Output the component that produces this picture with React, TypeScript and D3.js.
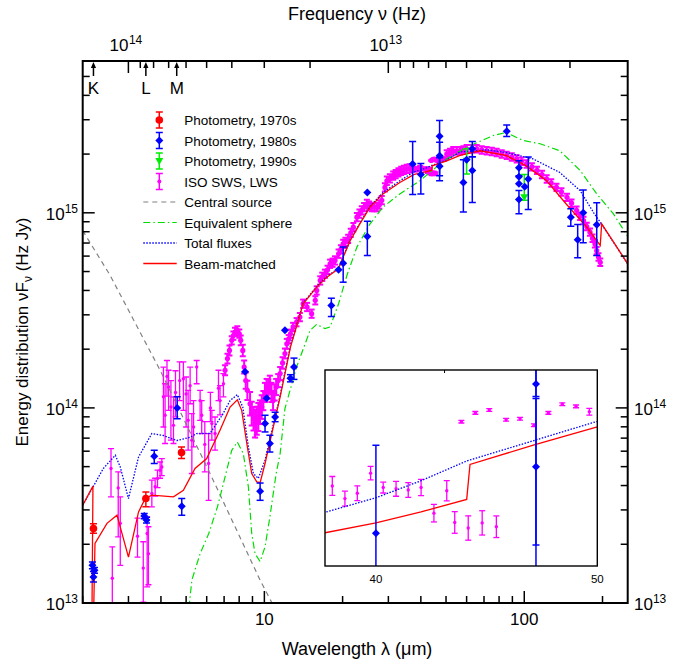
import React from 'react'
import * as d3 from 'd3'

type Pt = [number, number] // wavelength (µm), nuFnu (Hz Jy)
type Bar = [number, number, number, number] // wavelength, flux, low, high
type Band = [number, number, number] // wavelength, flux, relative error

// Photometry, 1970s
const phot1970s: Bar[] = [
  [2.2, 2.41e13, 2.28e13, 2.55e13],
  [3.5, 3.43e13, 3.11e13, 3.71e13],
  [4.8, 5.9e13, 5.5e13, 6.31e13],
]

// Photometry, 1980s
const phot1980s: Bar[] = [
  [2.18, 1.56e13, 1.5e13, 1.62e13],
  [2.22, 1.47e13, 1.42e13, 1.52e13],
  [2.2, 1.36e13, 1.28e13, 1.45e13],
  [3.45, 2.79e13, 2.7e13, 2.88e13],
  [3.52, 2.66e13, 2.57e13, 2.75e13],
  [3.77, 5.65e13, 5.19e13, 6.07e13],
  [4.62, 1.0e14, 8.81e13, 1.14e14],
  [4.81, 3.13e13, 2.82e13, 3.43e13],
  [8.43, 1.53e14, 1.53e14, 1.53e14],
  [9.63, 3.74e13, 3.36e13, 4.12e13],
  [10.06, 8.31e13, 7.53e13, 9.17e13],
  [10.2, 1.12e14, 1.12e14, 1.12e14],
  [10.5, 6.57e13, 5.94e13, 7.24e13],
  [11.0, 8.98e13, 8.5e13, 9.5e13],
  [12.0, 2.5e14, 2.5e14, 2.5e14],
  [12.6, 1.42e14, 1.36e14, 1.48e14],
  [13.0, 1.62e14, 1.4e14, 1.8e14],
  [18.1, 3.35e14, 2.94e14, 3.65e14],
  [19.3, 5.1e14, 5.1e14, 5.1e14],
  [20.1, 5.52e14, 4.41e14, 6.67e14],
  [24.9, 1.27e15, 1.27e15, 1.27e15],
  [24.9, 7.56e14, 6.04e14, 9.06e14],
  [37.2, 1.78e15, 1.24e15, 2.32e15],
  [40.0, 1.574e15, 1.25e15, 1.791e15],
  [47.23, 2.47e15, 1.46e15, 2.97e15],
  [47.23, 1.959e15, 1.924e15, 2.3e15],
  [47.23, 1.735e15, 1.547e15, 1.918e15],
  [58.3, 1.43e15, 1.01e15, 1.87e15],
  [60.0, 1.87e15, 1.87e15, 1.87e15],
  [63.1, 2.13e15, 1.94e15, 2.32e15],
  [63.1, 1.65e15, 1.13e15, 1.94e15],
  [85.6, 2.62e15, 2.46e15, 2.82e15],
  [95.4, 1.7e15, 1.55e15, 1.85e15],
  [95.4, 1.53e15, 1.53e15, 1.53e15],
  [95.4, 1.41e15, 1.41e15, 1.41e15],
  [95.4, 1.17e15, 0.99e15, 1.3e15],
  [100.4, 1.36e15, 1.36e15, 1.36e15],
  [103.6, 1.49e15, 1.04e15, 1.93e15],
  [151, 9.5e14, 8.54e14, 1.05e15],
  [160.5, 7.27e14, 5.88e14, 8.71e14],
  [168.6, 1.0e15, 7.02e14, 1.31e15],
  [190, 8.68e14, 6.04e14, 1.125e15],
]

// Photometry, 1990s
const phot1990s: Bar[] = [
  [60.0, 1.85e15, 1.58e15, 2.13e15],
  [100, 1.2e15, 1.16e15, 1.57e15],
]

// ISO SWS, short-wavelength points with wide error bars
const isoSparse: Bar[] = [
  [2.57, 4.89e13, 3.5e13, 6.19e13],
  [2.6, 1.34e13, 9.0e12, 1.94e13],
  [2.74, 3.89e13, 2.18e13, 4.7e13],
  [2.79, 2.56e13, 1.56e13, 3.5e13],
  [3.25, 2.2e13, 1.72e13, 2.72e13],
  [3.42, 1.51e13, 1.01e13, 2.06e13],
  [3.54, 2.27e13, 1.21e13, 2.76e13],
  [3.58, 1.79e13, 1.24e13, 2.46e13],
  [3.69, 3.64e13, 3.11e13, 4.26e13],
  [3.8, 3.94e13, 3.53e13, 4.36e13],
  [3.88, 4.35e13, 3.9e13, 4.8e13],
  [3.97, 4.79e13, 4.36e13, 5.28e13],
  [4.03, 4.98e13, 4.5e13, 5.5e13],
  [4.09, 1.14e14, 7.98e13, 1.62e14],
  [4.15, 9.17e13, 6.57e13, 1.33e14],
  [4.22, 1.45e14, 1.15e14, 1.75e14],
  [4.28, 1.28e14, 9.72e13, 1.56e14],
  [4.37, 1.01e14, 6.83e13, 1.38e14],
  [4.47, 8.14e13, 6.57e13, 1.14e14],
  [4.55, 1.2e14, 9.0e13, 1.55e14],
  [4.72, 1.38e14, 1.09e14, 1.72e14],
  [4.88, 1.41e14, 9.72e13, 1.72e14],
  [5.0, 1.18e14, 7.98e13, 1.44e14],
  [5.09, 8.64e13, 6.07e13, 1.23e14],
  [5.18, 1.3e14, 1.05e14, 1.62e14],
  [5.26, 6.83e13, 4.61e13, 9.35e13],
  [5.34, 7.98e13, 6.31e13, 1.09e14],
  [5.49, 1.62e14, 1.33e14, 1.75e14],
  [5.66, 1.09e14, 8.64e13, 1.23e14],
  [5.74, 9.17e13, 7.39e13, 1.09e14],
  [5.9, 6.5e13, 4.7e13, 8.5e13],
  [6.1, 5.19e13, 3.36e13, 7.39e13],
  [6.2, 1.0e14, 8.5e13, 1.2e14],
  [6.28, 8.31e13, 6.83e13, 9.72e13],
  [6.46, 7.39e13, 6.07e13, 8.98e13],
  [6.66, 1.26e14, 1.09e14, 1.56e14],
  [6.75, 1.09e14, 9.2e13, 1.3e14],
  [6.96, 1.33e14, 1.14e14, 1.5e14],
]

// ISO SWS, LWS dense spectrum
const isoBand: Band[] = [
  [7.06, 1.56e14, 0.06], [7.21, 1.79e14, 0.06], [7.34, 1.97e14, 0.06], [7.49, 2.22e14, 0.05],
  [7.6, 2.35e14, 0.05], [7.71, 2.45e14, 0.05], [7.87, 2.5e14, 0.05], [8.01, 2.4e14, 0.05],
  [8.11, 2.22e14, 0.06], [8.26, 1.97e14, 0.07], [8.36, 1.62e14, 0.08], [8.48, 1.38e14, 0.1],
  [8.6, 1.23e14, 0.12], [8.81, 1.05e14, 0.15], [8.94, 9.35e13, 0.15], [9.08, 8.8e13, 0.15],
  [9.21, 8.31e13, 0.18], [9.35, 8.6e13, 0.18], [9.48, 8.98e13, 0.18], [9.62, 9.5e13, 0.15],
  [9.77, 1.01e14, 0.15], [9.91, 1.09e14, 0.12], [10.05, 1.2e14, 0.12], [10.2, 1.28e14, 0.1],
  [10.35, 1.25e14, 0.12], [10.5, 1.33e14, 0.1], [10.65, 1.2e14, 0.12], [10.8, 1.09e14, 0.12],
  [10.95, 1.2e14, 0.1], [11.1, 1.28e14, 0.1], [11.3, 1.38e14, 0.08], [11.5, 1.5e14, 0.08],
  [11.75, 1.7e14, 0.07], [12.0, 1.9e14, 0.06], [12.2, 2.13e14, 0.06], [12.4, 2.25e14, 0.05],
  [12.6, 2.4e14, 0.05], [12.9, 2.6e14, 0.05], [13.3, 2.75e14, 0.05], [13.7, 2.92e14, 0.05],
  [14.1, 3.42e14, 0.05], [14.6, 3.29e14, 0.05], [15.2, 3.04e14, 0.05], [15.7, 3.56e14, 0.05],
  [15.9, 4.0e14, 0.05], [16.4, 4.5e14, 0.05], [16.7, 4.7e14, 0.05], [17.1, 4.87e14, 0.05],
  [17.5, 5.1e14, 0.05], [17.9, 5.48e14, 0.05], [18.3, 5.55e14, 0.05], [18.7, 5.7e14, 0.05],
  [19.3, 6.17e14, 0.05], [19.7, 6.5e14, 0.05], [20.1, 6.94e14, 0.05], [20.5, 7.1e14, 0.05],
  [21.0, 7.36e14, 0.05], [21.5, 7.9e14, 0.05], [22.0, 8.44e14, 0.05], [22.7, 9.5e14, 0.05],
  [23.2, 9.9e14, 0.05], [23.7, 1.03e15, 0.05], [24.2, 1.07e15, 0.05], [24.8, 1.11e15, 0.05],
  [25.3, 1.09e15, 0.05], [25.9, 1.07e15, 0.05], [26.5, 1.07e15, 0.05], [27.1, 1.07e15, 0.05],
  [27.7, 1.1e15, 0.05], [28.3, 1.16e15, 0.05], [29.1, 1.35e15, 0.05], [29.6, 1.46e15, 0.05],
  [30.4, 1.5e15, 0.05], [31.3, 1.55e15, 0.05], [32.0, 1.58e15, 0.05], [32.8, 1.61e15, 0.05],
  [33.6, 1.64e15, 0.05], [34.4, 1.66e15, 0.05], [35.3, 1.68e15, 0.05], [36.2, 1.69e15, 0.05],
  [37.1, 1.69e15, 0.04],
  [38.03, 1.687e15, 0.014], [38.6, 1.656e15, 0.011], [39.16, 1.669e15, 0.011], [39.76, 1.719e15, 0.01],
  [40.33, 1.683e15, 0.008], [40.91, 1.68e15, 0.011], [41.46, 1.677e15, 0.011], [42.04, 1.683e15, 0.012],
  [43.2, 1.675e15, 0.015], [42.62, 1.621e15, 0.013], [43.56, 1.599e15, 0.016], [44.17, 1.586e15, 0.018],
  [44.8, 1.598e15, 0.018], [45.44, 1.589e15, 0.016],
  [43.86, 1.854e15, 0.002], [44.49, 1.878e15, 0.002], [45.12, 1.886e15, 0.002], [45.88, 1.859e15, 0.002],
  [46.51, 1.862e15, 0.002], [47.14, 1.844e15, 0.002], [47.79, 1.878e15, 0.002], [48.42, 1.902e15, 0.002],
  [49.04, 1.896e15, 0.002], [49.64, 1.881e15, 0.005],
  [50.3, 2.0e15, 0.045], [51.8, 2.04e15, 0.045], [53.3, 2.08e15, 0.045], [55.0, 2.08e15, 0.045],
  [56.6, 2.08e15, 0.045], [58.3, 2.1e15, 0.045], [60.0, 2.13e15, 0.045], [62.8, 2.13e15, 0.045],
  [65.6, 2.13e15, 0.045], [68.6, 2.1e15, 0.045], [71.7, 2.08e15, 0.045], [75.0, 2.06e15, 0.045],
  [78.3, 2.04e15, 0.045], [81.9, 2.0e15, 0.045], [85.6, 1.97e15, 0.045], [89.5, 1.93e15, 0.045],
  [93.5, 1.89e15, 0.045], [97.6, 1.84e15, 0.045], [102, 1.78e15, 0.045], [107, 1.72e15, 0.045],
  [112, 1.65e15, 0.045], [117, 1.57e15, 0.045], [122, 1.49e15, 0.045], [127, 1.42e15, 0.045],
  [133, 1.35e15, 0.045], [139, 1.28e15, 0.045], [146, 1.2e15, 0.045], [152, 1.12e15, 0.045],
  [159, 1.03e15, 0.045], [164, 9.6e14, 0.045], [169, 9.13e14, 0.045], [174, 8.5e14, 0.045],
  [179, 7.96e14, 0.045], [183, 7.4e14, 0.045], [187, 6.94e14, 0.045], [190, 6.4e14, 0.045],
  [193, 5.93e14, 0.045], [196, 5.58e14, 0.045],
]

// Model curves
const centralSource: Pt[] = [
  [2.0, 8.1e14], [2.55, 4.78e14], [3.97, 1.56e14], [6.18, 4.61e13], [9.63, 1.31e13], [10.7, 1.0e13], [11.5, 7.9e12],
]

const equivalentSphere: Pt[] = [
  [5.0, 8e12], [5.15, 1.0e13], [5.26, 1.31e13], [5.66, 1.79e13], [6.11, 2.27e13], [6.6, 3.11e13],
  [7.06, 4.43e13], [7.49, 6.06e13], [7.87, 6.69e13], [8.3, 5.83e13], [8.68, 3.94e13], [8.94, 2.27e13],
  [9.21, 1.79e13], [9.63, 1.63e13], [10.06, 1.94e13], [10.5, 2.76e13], [11.1, 4.61e13], [11.5, 5.83e13],
  [12.0, 9.92e13], [13.3, 1.62e14], [15.0, 2.5e14], [15.9, 2.68e14], [17.1, 2.55e14], [17.9, 2.6e14],
  [19.3, 3.42e14], [20.8, 4.8e14], [22.7, 6.67e14], [25.5, 8.78e14], [28.6, 1.07e15], [33.2, 1.25e15],
  [39.7, 1.46e15], [49.1, 1.85e15], [60, 2.17e15], [76, 2.49e15], [85, 2.58e15], [98.9, 2.35e15],
  [115, 2.26e15], [137, 2.08e15], [164, 1.65e15], [190, 1.25e15], [220, 9.9e14], [251, 7.5e14],
]

const totalFluxes: Pt[] = [
  [2.0, 3.17e13], [2.2, 3.97e13], [2.4, 4.89e13], [2.67, 5.72e13], [2.79, 4.98e13], [3.0, 3.43e13],
  [3.28, 5.6e13], [3.69, 7.39e13], [4.09, 7.22e13], [4.6, 6.8e13], [5.18, 7.07e13], [5.49, 7.39e13],
  [6.18, 7.4e13], [6.88, 9.17e13], [7.38, 1.09e14], [7.87, 1.17e14], [8.26, 1.01e14], [8.68, 6.31e13],
  [9.07, 4.61e13], [9.48, 4.35e13], [10.06, 5.4e13], [10.68, 7.6e13], [11.5, 1.16e14], [12.6, 2.08e14],
  [14.1, 3.45e14], [15.9, 4.2e14], [17.4, 4.72e14], [19.3, 5.2e14], [20.1, 5.97e14], [21.4, 7.25e14],
  [23.3, 8.85e14], [25.5, 1.08e15], [28.6, 1.27e15], [33.2, 1.46e15], [37.7, 1.623e15], [40, 1.658e15],
  [42.04, 1.7e15], [44.1, 1.75e15], [50, 1.855e15], [56.6, 2.05e15], [72, 2.1e15], [85, 2.04e15],
  [108, 1.89e15], [137, 1.61e15], [164, 1.3e15], [185, 1.0e15], [198, 8.78e14], [250, 5.48e14],
]

const beamMatched: Pt[] = [
  [2.0, 3.17e13], [2.19, 3.97e13], [2.17, 8e12], [2.2, 8e12], [2.23, 2.02e13], [2.48, 2.56e13],
  [2.71, 2.82e13], [3.0, 1.72e13], [3.28, 2.93e13], [3.48, 3.43e13], [3.69, 3.57e13], [4.47, 3.5e13],
  [4.88, 3.78e13], [5.41, 4.89e13], [6.0, 5.5e13], [6.75, 7.68e13], [7.38, 1.01e14], [7.87, 1.1e14],
  [8.18, 9.72e13], [8.56, 6.57e13], [8.94, 4.61e13], [9.35, 4.18e13], [9.63, 4.14e13], [10.06, 5.19e13],
  [10.68, 7.39e13], [11.5, 1.14e14], [12.6, 2.05e14], [14.1, 3.42e14], [15.9, 4.16e14], [17.4, 4.68e14],
  [19.3, 5.17e14], [20.1, 5.93e14], [21.4, 7.21e14], [23.3, 8.78e14], [25.5, 1.07e15], [28.6, 1.25e15],
  [33.2, 1.43e15], [37.7, 1.575e15], [40, 1.598e15], [42.04, 1.624e15], [44.1, 1.654e15], [44.25, 1.741e15],
  [47.11, 1.791e15], [50, 1.84e15], [56.6, 1.97e15], [67.5, 2.08e15], [85, 1.97e15], [101, 1.75e15],
  [122, 1.46e15], [145, 1.11e15], [174, 8.44e14], [196, 6.8e14], [198.5, 8.78e14], [250, 5.48e14],
]

const bandMarks: [string, number][] = [['K', 2.2], ['L', 3.5], ['M', 4.6]]
const xMajorTicks = [10, 100]
const yMajorTicks: [number, string][] = [[1e13, '13'], [1e14, '14'], [1e15, '15']]
const freqMajorTicks: [number, string][] = [[1e14, '14'], [1e13, '13']]
const insetLabels = [40, 50]
const insetTopTicks = [43.1]

const C_UM = 2.998e14 // speed of light, µm/s
const FONT = "'Liberation Sans', Arial, Helvetica, sans-serif"
const RED = '#ff0000'
const BLUE = '#0000ff'
const GREEN = '#00dd00'
const MAGENTA = '#ff00ff'

const PL = 82.7
const PR = 627.7
const PT = 61
const PB = 603
const IL = 325
const IR = 597.3
const IT = 370
const IB = 566

const ErrBar = ({ cx, y1, y2, color, cap = 3.5, w = 1.3 }: { cx: number; y1: number; y2: number; color: string; cap?: number; w?: number }) => (
  <g stroke={color} strokeWidth={w}>
    <line x1={cx} x2={cx} y1={y1} y2={y2} />
    <line x1={cx - cap} x2={cx + cap} y1={y1} y2={y1} />
    <line x1={cx - cap} x2={cx + cap} y1={y2} y2={y2} />
  </g>
)

const diamond = (cx: number, cy: number, r = 4) => `M${cx},${cy - r}L${cx + r},${cy}L${cx},${cy + r}L${cx - r},${cy}Z`
const downTri = (cx: number, cy: number) => `M${cx - 4},${cy - 3}L${cx + 4},${cy - 3}L${cx},${cy + 4}Z`

export default function App() {
  const x = d3.scaleLog().domain([2, 250]).range([PL, PR])
  const y = d3.scaleLog().domain([1e13, 6e15]).range([PB, PT])
  const ix = d3.scaleLinear().domain([37.7, 50]).range([IL, IR])
  const iy = d3.scaleLog().domain([1.5e15, 2.0e15]).range([IB, IT])

  const path = (pts: Pt[], sx: (v: number) => number, sy: (v: number) => number) =>
    d3.line<Pt>().x(d => sx(d[0])).y(d => sy(d[1]))(pts) || ''

  // minor tick values
  const xMinor: number[] = []
  ;[1, 10, 100].forEach(d => d3.range(2, 10).forEach(k => { if (k * d >= 2 && k * d <= 250) xMinor.push(k * d) }))
  const yMinor: number[] = []
  ;[1e13, 1e14, 1e15].forEach(d => d3.range(2, 10).forEach(k => { if (k * d <= 6e15) yMinor.push(k * d) }))
  const fMinor: number[] = []
  ;[1e12, 1e13].forEach(d => d3.range(2, 10).forEach(k => {
    const lam = C_UM / (k * d)
    if (lam >= 2 && lam <= 250) fMinor.push(lam)
  }))

  const isoMarks = (sx: (v: number) => number, sy: (v: number) => number, r: number, rb: number, w: number, inRange: (l: number) => boolean) => (
    <g>
      {isoSparse.filter(d => inRange(d[0])).map((d, i) => (
        <g key={`s${i}`}>
          <ErrBar cx={sx(d[0])} y1={sy(d[3])} y2={sy(d[2])} color={MAGENTA} cap={3} />
          <circle cx={sx(d[0])} cy={sy(d[1])} r={r} fill={MAGENTA} />
        </g>
      ))}
      {isoBand.filter(d => inRange(d[0])).map((d, i) => (
        <g key={`b${i}`}>
          <ErrBar cx={sx(d[0])} y1={sy(d[1] * (1 + d[2]))} y2={sy(d[1] / (1 + d[2]))} color={MAGENTA} cap={3} w={w} />
          <circle cx={sx(d[0])} cy={sy(d[1])} r={rb} fill={MAGENTA} />
        </g>
      ))}
    </g>
  )

  const photMarks = (data: Bar[], sx: (v: number) => number, sy: (v: number) => number, color: string, kind: string) =>
    data.map((d, i) => {
      const cx = sx(d[0])
      const cy = sy(d[1])
      return (
        <g key={i}>
          {d[2] !== d[3] && <ErrBar cx={cx} y1={sy(d[3])} y2={sy(d[2])} color={color} w={1.5} />}
          {kind === 'circle' && <circle cx={cx} cy={cy} r={3.8} fill={color} />}
          {kind === 'diamond' && <path d={diamond(cx, cy)} fill={color} />}
          {kind === 'tri' && <path d={downTri(cx, cy)} fill={color} />}
        </g>
      )
    })

  const curves = (sx: (v: number) => number, sy: (v: number) => number, withAll: boolean) => (
    <g fill="none">
      {withAll && <path d={path(centralSource, sx, sy)} stroke="#808080" strokeWidth={1.2} strokeDasharray="5,4" />}
      {withAll && <path d={path(equivalentSphere, sx, sy)} stroke={GREEN} strokeWidth={1.2} strokeDasharray="7,3,1.5,3" />}
      <path d={path(totalFluxes, sx, sy)} stroke={BLUE} strokeWidth={1.3} strokeDasharray="1.5,1.5" />
      <path d={path(beamMatched, sx, sy)} stroke={RED} strokeWidth={1.3} />
    </g>
  )

  const legendRows = [
    'Photometry, 1970s', 'Photometry, 1980s', 'Photometry, 1990s', 'ISO SWS, LWS',
    'Central source', 'Equivalent sphere', 'Total fluxes', 'Beam-matched',
  ]
  const legendY = (i: number) => 120 + i * 20.5
  const lx = 159.3

  return (
    <svg width={684} height={664} style={{ position: 'absolute', left: 0, top: 0, background: '#fff' }} fontFamily={FONT}>
      <defs>
        <clipPath id="main-clip"><rect x={PL} y={PT} width={PR - PL} height={PB - PT} /></clipPath>
        <clipPath id="inset-clip"><rect x={IL} y={IT} width={IR - IL} height={IB - IT} /></clipPath>
      </defs>

      {/* data */}
      <g clipPath="url(#main-clip)">
        {isoMarks(x, y, 1.7, 2.6, 2, () => true)}
        {curves(x, y, true)}
        {photMarks(phot1990s, x, y, '#00ee00', 'tri')}
        {photMarks(phot1980s, x, y, BLUE, 'diamond')}
        {photMarks(phot1970s, x, y, RED, 'circle')}
      </g>

      {/* frame */}
      <rect x={PL} y={PT} width={PR - PL} height={PB - PT} fill="none" stroke="#000" strokeWidth={2} />

      {/* wavelength, frequency and flux ticks */}
      <g stroke="#000" strokeWidth={1.5}>
        {xMinor.map(v => <line key={`xb${v}`} x1={x(v)} x2={x(v)} y1={PB} y2={PB - 7} />)}
        {xMajorTicks.map(v => <line key={`xB${v}`} x1={x(v)} x2={x(v)} y1={PB} y2={PB - 12} />)}
        {fMinor.map(v => <line key={`ft${v}`} x1={x(v)} x2={x(v)} y1={PT} y2={PT + 7} />)}
        {freqMajorTicks.map(([f]) => <line key={`fT${f}`} x1={x(C_UM / f)} x2={x(C_UM / f)} y1={PT} y2={PT + 12} />)}
        {yMinor.map(v => (
          <g key={`ym${v}`}>
            <line x1={PL} x2={PL + 7} y1={y(v)} y2={y(v)} />
            <line x1={PR} x2={PR - 7} y1={y(v)} y2={y(v)} />
          </g>
        ))}
        {yMajorTicks.map(([v]) => (
          <g key={`yM${v}`}>
            <line x1={PL} x2={PL + 12} y1={y(v)} y2={y(v)} />
            <line x1={PR} x2={PR - 12} y1={y(v)} y2={y(v)} />
          </g>
        ))}
      </g>

      {/* tick labels */}
      <g fontSize={17} fill="#000">
        {xMajorTicks.map(v => <text key={`xl${v}`} x={x(v)} y={625} textAnchor="middle">{v}</text>)}
        {freqMajorTicks.map(([f, e]) => (
          <g key={`fl${f}`}>
            <text x={x(C_UM / f)} y={51} textAnchor="end">10</text>
            <text x={x(C_UM / f) + 0.5} y={44} fontSize={12}>{e}</text>
          </g>
        ))}
        {yMajorTicks.map(([v, e]) => (
          <g key={`yl${v}`}>
            <text x={78} y={y(v) + 7} textAnchor="end">10<tspan dy={-7} fontSize={12}>{e}</tspan></text>
            <text x={634} y={y(v) + 7}>10<tspan dy={-7} fontSize={12}>{e}</tspan></text>
          </g>
        ))}
      </g>

      {/* K, L, M band arrows */}
      {bandMarks.map(([name, lam]) => (
        <g key={name}>
          <line x1={x(lam)} x2={x(lam)} y1={76} y2={66} stroke="#000" strokeWidth={1.5} />
          <path d={`M${x(lam)},${62}L${x(lam) - 2.6},${68}L${x(lam) + 2.6},${68}Z`} fill="#000" />
          <text x={x(lam)} y={94} fontSize={17} textAnchor="middle">{name}</text>
        </g>
      ))}

      {/* axis titles */}
      <text x={357} y={20} fontSize={18} textAnchor="middle">Frequency ν (Hz)</text>
      <text x={357} y={655} fontSize={18} textAnchor="middle">Wavelength λ (μm)</text>
      <text transform="translate(28,332) rotate(-90)" fontSize={17} textAnchor="middle">
        Energy distribution νF<tspan dy={4} fontSize={12}>ν</tspan><tspan dy={-4}> (Hz Jy)</tspan>
      </text>

      {/* legend */}
      <g fontSize={13.5}>
        {legendRows.map((label, i) => (
          <text key={label} x={184.3} y={legendY(i) + 5}>{label}</text>
        ))}
        <ErrBar cx={lx} y1={legendY(0) - 8} y2={legendY(0) + 8} color={RED} w={1.5} />
        <circle cx={lx} cy={legendY(0)} r={3.8} fill={RED} />
        <ErrBar cx={lx} y1={legendY(1) - 8} y2={legendY(1) + 8} color={BLUE} w={1.5} />
        <path d={diamond(lx, legendY(1))} fill={BLUE} />
        <ErrBar cx={lx} y1={legendY(2) - 8} y2={legendY(2) + 8} color="#00ee00" w={1.5} />
        <path d={downTri(lx, legendY(2))} fill="#00ee00" />
        <ErrBar cx={lx} y1={legendY(3) - 8} y2={legendY(3) + 8} color={MAGENTA} w={1.5} />
        <circle cx={lx} cy={legendY(3)} r={2} fill={MAGENTA} />
        <line x1={143.3} x2={176.7} y1={legendY(4)} y2={legendY(4)} stroke="#808080" strokeWidth={1.2} strokeDasharray="5,4" />
        <line x1={143.3} x2={176.7} y1={legendY(5)} y2={legendY(5)} stroke={GREEN} strokeWidth={1.2} strokeDasharray="7,3,1.5,3" />
        <line x1={143.3} x2={176.7} y1={legendY(6)} y2={legendY(6)} stroke={BLUE} strokeWidth={1.3} strokeDasharray="1.5,1.5" />
        <line x1={143.3} x2={176.7} y1={legendY(7)} y2={legendY(7)} stroke={RED} strokeWidth={1.3} />
      </g>

      {/* inset: 38-50 µm close-up */}
      <rect x={IL} y={IT} width={IR - IL} height={IB - IT} fill="#fff" />
      <g clipPath="url(#inset-clip)">
        {isoMarks(ix, iy, 1.5, 1.7, 1.3, l => l >= 37.5 && l <= 50.5)}
        {curves(ix, iy, false)}
        {photMarks(phot1980s.filter(d => d[0] >= 37.5 && d[0] <= 50.5), ix, iy, BLUE, 'diamond')}
      </g>
      <rect x={IL} y={IT} width={IR - IL} height={IB - IT} fill="none" stroke="#000" strokeWidth={1.4} />
      {insetTopTicks.map(v => <line key={v} x1={ix(v)} x2={ix(v)} y1={IT} y2={IT + 3} stroke="#000" strokeWidth={1} />)}
      {insetLabels.map(v => <text key={v} x={ix(v)} y={583} fontSize={11.5} textAnchor="middle">{v}</text>)}
    </svg>
  )
}
